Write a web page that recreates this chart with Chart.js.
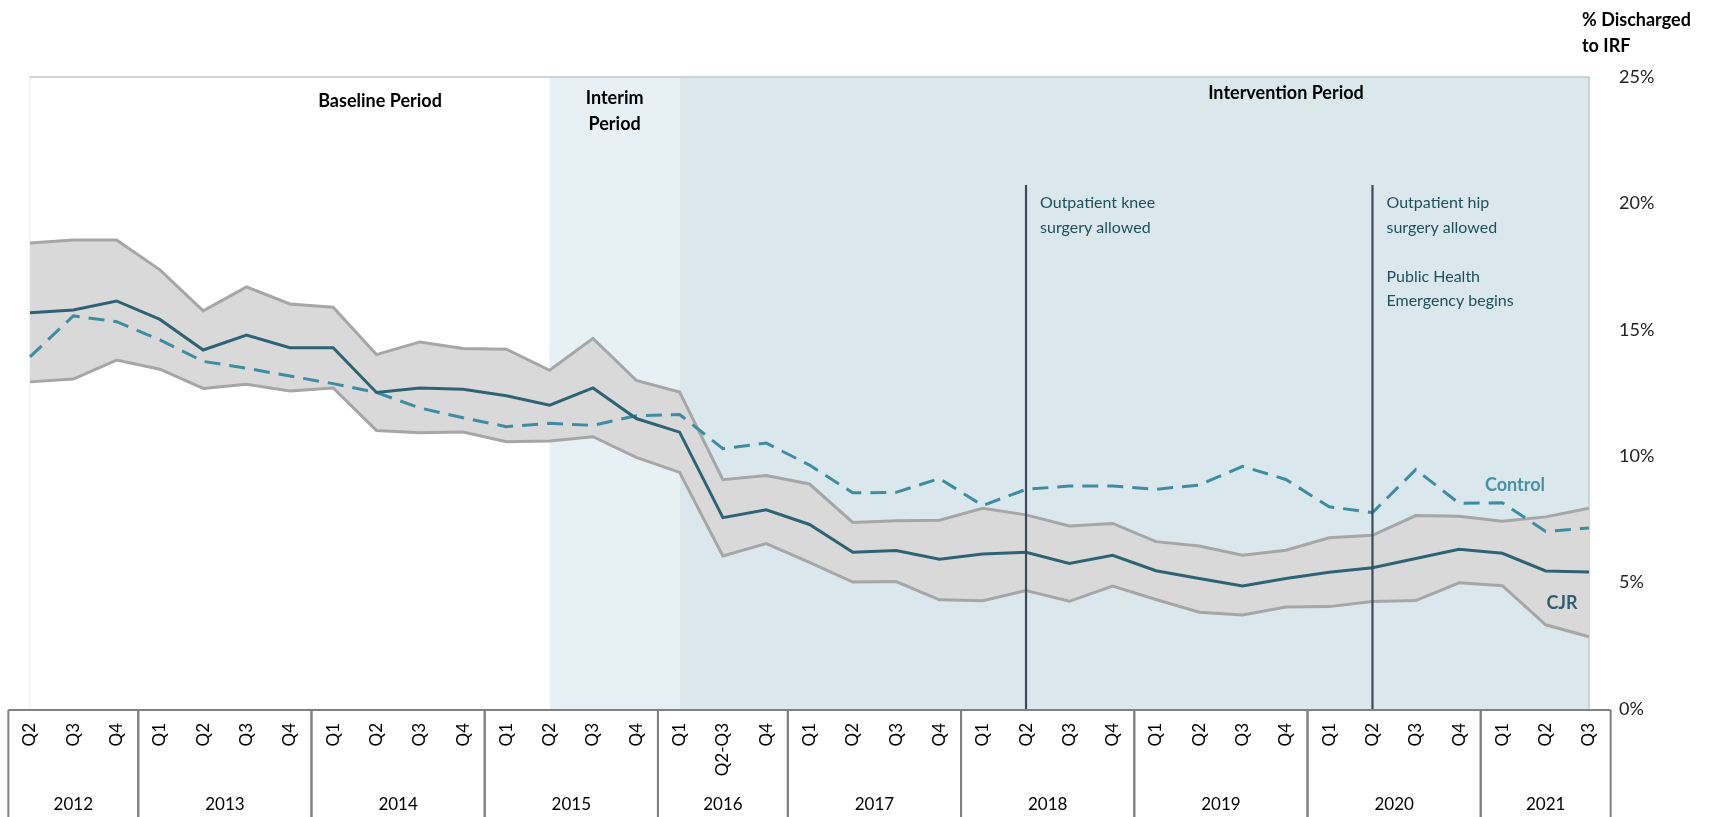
<!DOCTYPE html>
<html>
<head>
<meta charset="utf-8">
<script src="https://cdn.jsdelivr.net/npm/chart.js@4.4.0/dist/chart.umd.min.js"></script>
<style>
  html, body { margin: 0; padding: 0; background: #fff; }
  #wrap { width: 1722px; height: 817px; position: relative; }
</style>
</head>
<body>
<div id="wrap"><canvas id="irf"></canvas></div>
<script>
// quarter labels along the bottom, grouped by year
const quarters = ['Q2', 'Q3', 'Q4',
  'Q1', 'Q2', 'Q3', 'Q4',
  'Q1', 'Q2', 'Q3', 'Q4',
  'Q1', 'Q2', 'Q3', 'Q4',
  'Q1', 'Q2-Q3', 'Q4',
  'Q1', 'Q2', 'Q3', 'Q4',
  'Q1', 'Q2', 'Q3', 'Q4',
  'Q1', 'Q2', 'Q3', 'Q4',
  'Q1', 'Q2', 'Q3', 'Q4',
  'Q1', 'Q2', 'Q3']
const years = ['2012', '2013', '2014', '2015', '2016', '2017', '2018', '2019', '2020', '2021']
const quartersPerYear = [3, 4, 4, 4, 3, 4, 4, 4, 4, 3]

// % discharged to IRF
const cjr = [15.67, 15.78, 16.14, 15.41, 14.2, 14.79, 14.29, 14.29, 12.52, 12.7, 12.65, 12.39,
  12.02, 12.7, 11.49, 10.95, 7.57, 7.88, 7.3, 6.2, 6.27, 5.92, 6.13, 6.2, 5.76, 6.08,
  5.47, 5.16, 4.87, 5.16, 5.41, 5.59, 5.95, 6.32, 6.16, 5.46, 5.42]
const control = [13.93, 15.55, 15.32, 14.6, 13.75, 13.48, 13.17, 12.87, 12.52, 11.91, 11.52, 11.17,
  11.3, 11.22, 11.6, 11.65, 10.3, 10.52, 9.65, 8.55, 8.57, 9.12, 8.05, 8.69, 8.82, 8.82,
  8.69, 8.86, 9.6, 9.08, 8.0, 7.77, 9.47, 8.14, 8.16, 7.02, 7.16]
const cjrUpper = [18.43, 18.55, 18.55, 17.37, 15.75, 16.7, 16.02, 15.89, 14.02, 14.52, 14.26, 14.23,
  13.4, 14.66, 13.0, 12.54, 9.07, 9.24, 8.9, 7.38, 7.45, 7.47, 7.94, 7.68, 7.24, 7.34,
  6.62, 6.45, 6.08, 6.28, 6.77, 6.87, 7.65, 7.62, 7.43, 7.6, 7.94]
const cjrLower = [12.94, 13.05, 13.8, 13.44, 12.68, 12.85, 12.58, 12.7, 11.02, 10.93, 10.96, 10.57,
  10.6, 10.77, 9.95, 9.36, 6.05, 6.54, 5.8, 5.02, 5.04, 4.32, 4.28, 4.69, 4.26, 4.86,
  4.33, 3.83, 3.72, 4.03, 4.05, 4.25, 4.29, 4.99, 4.88, 3.33, 2.86]

const yTicks = [0, 5, 10, 15, 20, 25]

// period boundaries (indexes into quarters) and policy markers
const interimStart = 12
const interventionStart = 15
const events = [
  { at: 23, lines: ['Outpatient knee', 'surgery allowed'] },
  { at: 31, lines: ['Outpatient hip', 'surgery allowed', '', 'Public Health', 'Emergency begins'] }
]

const FONT = 'Lato, "Open Sans", sans-serif'

const decorations = {
  id: 'decorations',
  beforeDatasetsDraw(chart) {
    const { ctx, chartArea: a, scales: { x } } = chart
    ctx.save()
    const x1 = x.getPixelForValue(interimStart)
    const x2 = x.getPixelForValue(interventionStart)
    ctx.fillStyle = '#e7f0f4'
    ctx.fillRect(x1, a.top, x2 - x1, a.bottom - a.top)
    ctx.fillStyle = '#dae8ee'
    ctx.fillRect(x2, a.top, a.right - x2, a.bottom - a.top)
    // plot frame
    ctx.lineWidth = 1.5
    ctx.strokeStyle = '#f0f0f0'
    ctx.beginPath(); ctx.moveTo(a.left, a.top); ctx.lineTo(a.left, a.bottom); ctx.stroke()
    ctx.strokeStyle = '#c4c8cc'
    ctx.beginPath(); ctx.moveTo(a.left, a.top); ctx.lineTo(a.right, a.top); ctx.lineTo(a.right, a.bottom); ctx.stroke()
    ctx.restore()
  },
  afterDatasetsDraw(chart) {
    const { ctx, chartArea: a, scales: { x, y } } = chart
    ctx.save()
    // policy markers
    events.forEach(ev => {
      const px = x.getPixelForValue(ev.at)
      ctx.strokeStyle = '#3c4a5c'
      ctx.lineWidth = 2.2
      ctx.beginPath(); ctx.moveTo(px, 185); ctx.lineTo(px, a.bottom + 2); ctx.stroke()
      ctx.fillStyle = '#1f4f5c'
      ctx.font = '16px ' + FONT
      ctx.textAlign = 'left'
      ctx.textBaseline = 'middle'
      ev.lines.forEach((t, i) => ctx.fillText(t, px + 14, 203 + i * 24.5))
    })
    // period headings
    ctx.fillStyle = '#000'
    ctx.font = 'bold 18px ' + FONT
    ctx.textAlign = 'center'
    ctx.fillText('Baseline Period', 380, 101)
    const mid = (x.getPixelForValue(interimStart) + x.getPixelForValue(interventionStart)) / 2
    ctx.fillText('Interim', mid, 98)
    ctx.fillText('Period', mid, 124)
    ctx.fillText('Intervention Period', 1286, 93)
    // series names
    ctx.fillStyle = '#4a8fa3'
    ctx.fillText('Control', 1515, y.getPixelForValue(8.85))
    ctx.fillStyle = '#2f5f6e'
    ctx.fillText('CJR', 1562, y.getPixelForValue(4.2))
    ctx.restore()
  },
  afterDraw(chart) {
    const { ctx, chartArea: a, scales: { x } } = chart
    const step = x.getPixelForValue(1) - x.getPixelForValue(0)
    const top = a.bottom + 1
    const bottom = chart.height + 5
    ctx.save()
    ctx.strokeStyle = '#808080'
    ctx.lineWidth = 2
    ctx.beginPath()
    ctx.moveTo(x.getPixelForValue(0) - step / 2, top)
    ctx.lineTo(x.getPixelForValue(quarters.length - 1) + step / 2, top)
    ctx.stroke()
    ctx.fillStyle = '#000'
    ctx.font = '17px ' + FONT
    ctx.textAlign = 'center'
    ctx.textBaseline = 'middle'
    let start = 0
    years.forEach((yr, i) => {
      const end = start + quartersPerYear[i] - 1
      const left = x.getPixelForValue(start) - step / 2
      const right = x.getPixelForValue(end) + step / 2
      ctx.beginPath(); ctx.moveTo(left, top); ctx.lineTo(left, bottom); ctx.stroke()
      ctx.beginPath(); ctx.moveTo(right, top); ctx.lineTo(right, bottom); ctx.stroke()
      ctx.fillText(yr, (left + right) / 2, 805)
      start = end + 1
    })
    // axis title, top right
    ctx.font = 'bold 18px ' + FONT
    ctx.textAlign = 'left'
    ctx.fillText('% Discharged', 1582, 20)
    ctx.fillText('to IRF', 1582, 46)
    ctx.restore()
  }
}

new Chart(document.getElementById('irf'), {
  type: 'line',
  data: {
    labels: quarters,
    datasets: [
      {
        label: 'CJR upper',
        data: cjrUpper,
        borderColor: '#a6a6a6',
        borderWidth: 3,
        backgroundColor: '#d9d9d9',
        fill: '+1',
        pointRadius: 0,
        tension: 0,
        order: 3
      },
      {
        label: 'CJR lower',
        data: cjrLower,
        borderColor: '#a6a6a6',
        borderWidth: 3,
        fill: false,
        pointRadius: 0,
        tension: 0,
        order: 2
      },
      {
        label: 'Control',
        data: control,
        borderColor: '#3f8ca2',
        borderWidth: 3,
        borderDash: [16, 9],
        fill: false,
        pointRadius: 0,
        tension: 0,
        order: 1
      },
      {
        label: 'CJR',
        data: cjr,
        borderColor: '#2d6374',
        borderWidth: 3,
        fill: false,
        pointRadius: 0,
        tension: 0,
        order: 0
      }
    ]
  },
  options: {
    responsive: true,
    maintainAspectRatio: false,
    animation: false,
    layout: { padding: { left: 30, top: 77, right: 0, bottom: 0 } },
    plugins: {
      legend: { display: false },
      tooltip: { enabled: false }
    },
    scales: {
      x: {
        offset: false,
        grid: { display: false, drawTicks: false },
        border: { display: false },
        ticks: {
          autoSkip: false,
          minRotation: 90,
          maxRotation: 90,
          padding: 14,
          color: '#000',
          font: { family: FONT, size: 17 }
        },
        afterFit: s => { s.height = 108 }
      },
      y: {
        position: 'right',
        min: 0,
        max: 25,
        grid: { display: false, drawTicks: false },
        border: { display: false },
        afterBuildTicks: s => { s.ticks = yTicks.map(v => ({ value: v })) },
        ticks: {
          padding: 30,
          color: '#222',
          font: { family: FONT, size: 18 },
          callback: v => v + '%'
        },
        afterFit: s => { s.width = 133 }
      }
    }
  },
  plugins: [decorations]
})
</script>
</body>
</html>
